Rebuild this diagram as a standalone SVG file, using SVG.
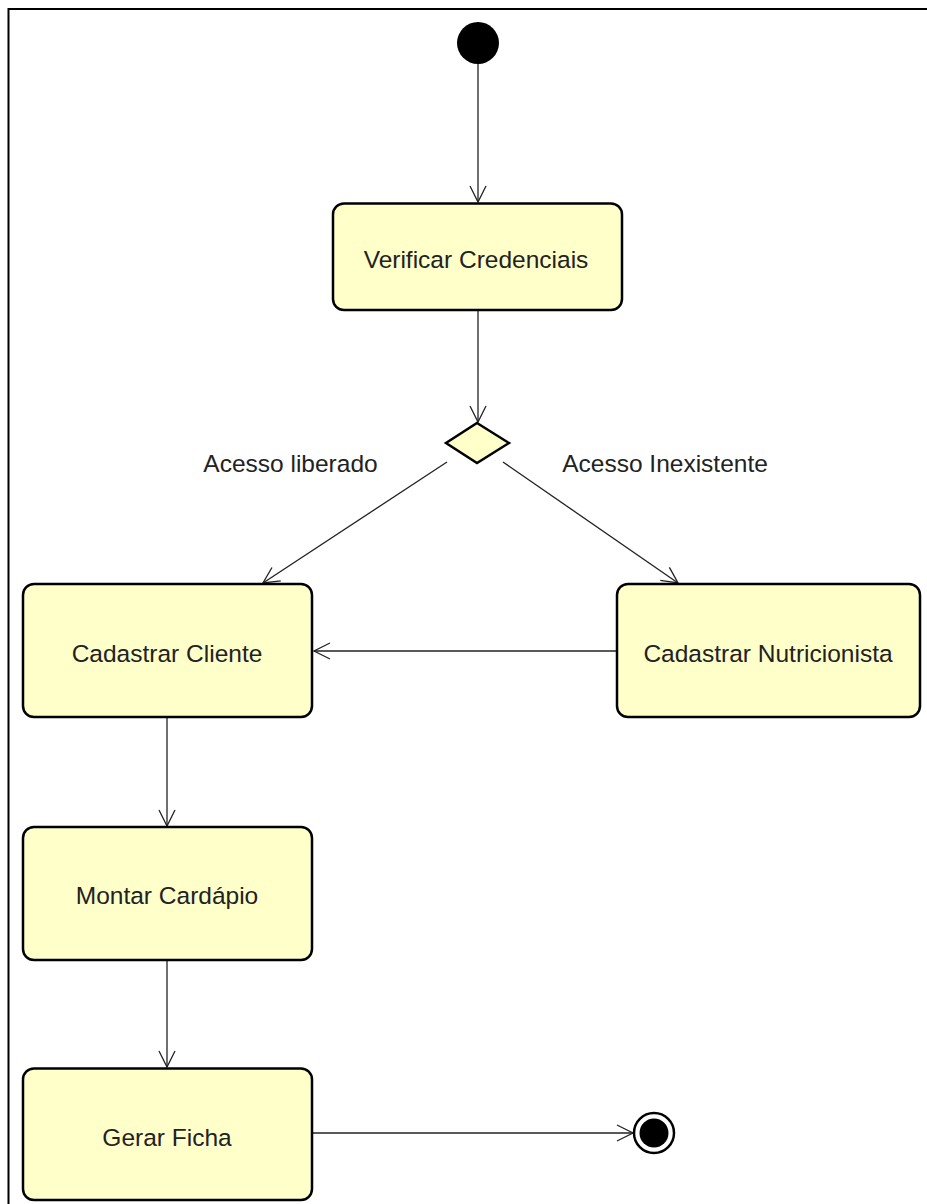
<svg xmlns="http://www.w3.org/2000/svg" width="927" height="1204" viewBox="0 0 927 1204">
  <style>
    .action { fill: #ffffca; stroke: #000; stroke-width: 2.5; }
    .label { font-family: "Liberation Sans", Arial, sans-serif; font-size: 24.5px; fill: #222; text-anchor: middle; dominant-baseline: central; }
    .edge { fill: none; stroke: #222; stroke-width: 1.3; }
  </style>
  <defs>
    <marker id="open" viewBox="0 0 20 20" refX="18" refY="10" markerWidth="20" markerHeight="20" markerUnits="userSpaceOnUse" orient="auto">
      <path d="M2,2 L18,10 L2,18" fill="none" stroke="#222" stroke-width="1.3"/>
    </marker>
  </defs>

  <rect width="927" height="1204" fill="#fff"/>
  <!-- diagram frame -->
  <path d="M8.5,1204 V9 H927" fill="none" stroke="#000" stroke-width="2"/>

  <g id="connectors">
    <line class="edge" x1="478" y1="64" x2="478" y2="202" marker-end="url(#open)"/>
    <line class="edge" x1="478" y1="310" x2="478" y2="422" marker-end="url(#open)"/>
    <line class="edge" x1="447" y1="462" x2="263" y2="583" marker-end="url(#open)"/>
    <line class="edge" x1="503" y1="462" x2="678" y2="583" marker-end="url(#open)"/>
    <line class="edge" x1="617" y1="651" x2="314" y2="651" marker-end="url(#open)"/>
    <line class="edge" x1="167" y1="718" x2="167" y2="826" marker-end="url(#open)"/>
    <line class="edge" x1="167" y1="960" x2="167" y2="1067" marker-end="url(#open)"/>
    <line class="edge" x1="313" y1="1133" x2="633" y2="1133" marker-end="url(#open)"/>
    <text class="label" x="290.5" y="463">Acesso liberado</text>
    <text class="label" x="665" y="463">Acesso Inexistente</text>
  </g>

  <g id="start">
    <circle cx="478" cy="43" r="21" fill="#000"/>
  </g>

  <g id="verificar-credenciais">
    <rect class="action" x="333" y="203.5" width="289" height="106.5" rx="11"/>
    <text class="label" x="476" y="259">Verificar Credenciais</text>
  </g>

  <g id="decision">
    <polygon points="477,423 509,443 477,463 446,443" fill="#ffffca" stroke="#000" stroke-width="2.5"/>
  </g>

  <g id="cadastrar-cliente">
    <rect class="action" x="23" y="584" width="289" height="133" rx="11"/>
    <text class="label" x="167" y="653">Cadastrar Cliente</text>
  </g>

  <g id="cadastrar-nutricionista">
    <rect class="action" x="617" y="584" width="303" height="133" rx="11"/>
    <text class="label" x="768" y="653">Cadastrar Nutricionista</text>
  </g>

  <g id="montar-cardapio">
    <rect class="action" x="23" y="827" width="289" height="133" rx="11"/>
    <text class="label" x="167" y="895">Montar Cardápio</text>
  </g>

  <g id="gerar-ficha">
    <rect class="action" x="23" y="1068.5" width="289" height="131.5" rx="11"/>
    <text class="label" x="167" y="1137">Gerar Ficha</text>
  </g>

  <g id="end">
    <circle cx="654" cy="1133" r="20" fill="#fff" stroke="#000" stroke-width="2.5"/>
    <circle cx="654" cy="1133" r="14.5" fill="#000"/>
  </g>
</svg>
